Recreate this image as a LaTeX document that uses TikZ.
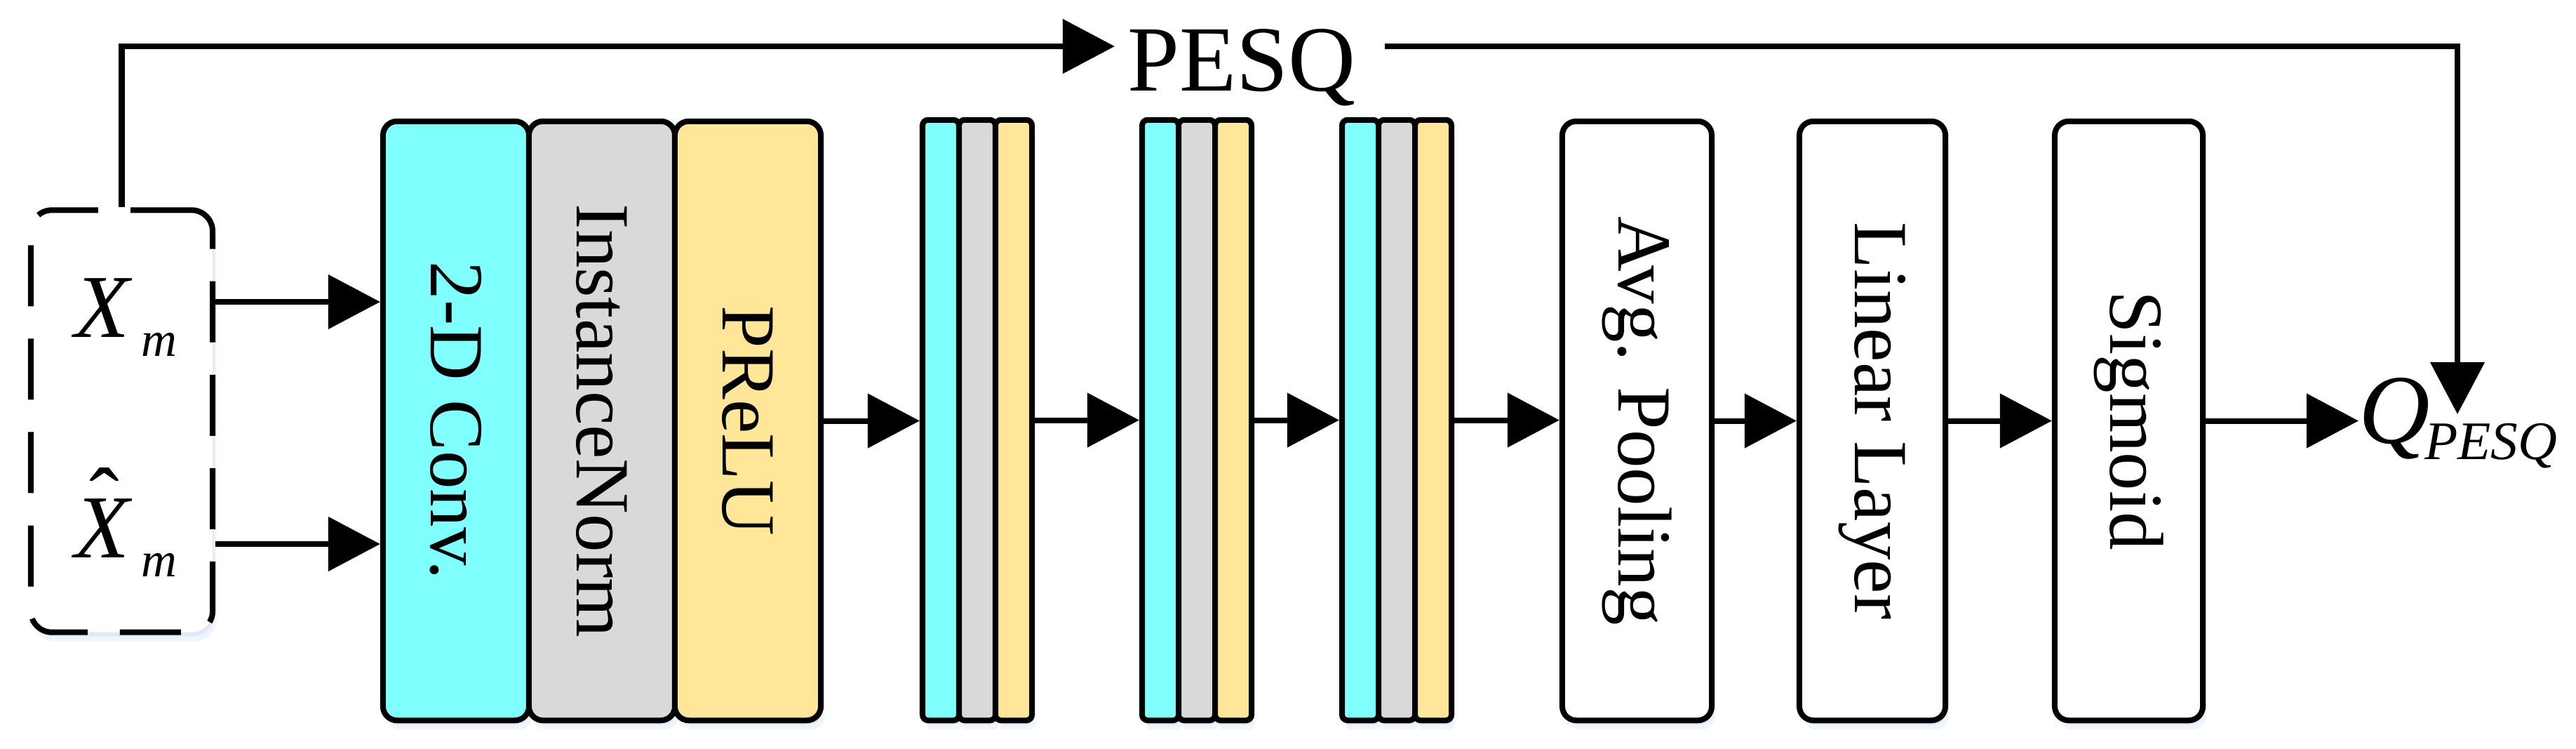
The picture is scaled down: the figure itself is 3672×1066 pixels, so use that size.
\documentclass[tikz,border=0pt]{standalone}
\usepackage{fontspec}
\setmainfont{Liberation Serif}
\usetikzlibrary{arrows.meta,shadows}
\definecolor{cconv}{HTML}{80FFFF}
\definecolor{cnorm}{HTML}{D9D9D9}
\definecolor{cprelu}{HTML}{FFE699}
\definecolor{cshadow}{HTML}{9DBFE8}
\tikzset{
  lw/.style={line width=0.08cm},
  shad/.style={
    drop shadow={shadow xshift=0.05cm, shadow yshift=-0.13cm, fill=cshadow, opacity=0.15},
    drop shadow={shadow xshift=0.02cm, shadow yshift=-0.06cm, fill=cshadow, opacity=0.22}},
  bigbox/.style={draw, lw, rounded corners=0.2cm, minimum width=2.08cm, minimum height=8.53cm,
    inner sep=0, shad, font=\fontsize{31}{31}\selectfont},
  col/.style={draw, lw, rounded corners=0.08cm, minimum width=0.52cm, minimum height=8.55cm,
    inner sep=0, shad},
  arr/.style={lw, -{Triangle[length=0.74cm,width=0.76cm]}},
  lbl/.style={anchor=base west, inner sep=0},
}
\begin{document}
\begin{tikzpicture}[x=0.01cm, y=-0.01cm]
\useasboundingbox (0,0) rectangle (3672,1066);
\fill[white] (0,0) rectangle (3672,1066);

% input group
\node[draw, lw, dash pattern=on 0.87cm off 0.46cm, rounded corners=0.3cm,
  minimum width=2.59cm, minimum height=6.01cm, fill=white, shad] (inbox) at (173.5,600) {};
\node[lbl, font=\fontsize{36.4}{36.4}\selectfont\itshape] (xm) at (106,480)
  {X\kern0.17cm\raisebox{-7.7pt}{\fontsize{20}{20}\selectfont m}};
\node[lbl, font=\fontsize{36.4}{36.4}\selectfont\itshape] (xh) at (106,794)
  {\setbox0\hbox{X}\rlap{\hbox to \wd0{\hss\kern0.06cm\raisebox{0.3em}{\upshape ˆ}\hss}}X\kern0.17cm\raisebox{-7.7pt}{\fontsize{20}{20}\selectfont m}};

% first block
\node[bigbox, fill=cconv]  (conv)  at (650,599.5)  {\rotatebox{-90}{2-D Conv.}};
\node[bigbox, fill=cnorm]  (norm)  at (858,599.5)  {\rotatebox{-90}{InstanceNorm}};
\node[bigbox, fill=cprelu] (prelu) at (1066,599.5) {\rotatebox{-90}{PReLU}};

% small blocks
\node[col, fill=cconv]  (b1a) at (1341,598.5) {};
\node[col, fill=cnorm]  (b1b) at (1393,598.5) {};
\node[col, fill=cprelu] (b1c) at (1445,598.5) {};
\node[col, fill=cconv]  (b2a) at (1654,598.5) {};
\node[col, fill=cnorm]  (b2b) at (1706,598.5) {};
\node[col, fill=cprelu] (b2c) at (1758,598.5) {};
\node[col, fill=cconv]  (b3a) at (1939,598.5) {};
\node[col, fill=cnorm]  (b3b) at (1991,598.5) {};
\node[col, fill=cprelu] (b3c) at (2043,598.5) {};

% head
\node[bigbox, fill=white, minimum width=2.13cm] (avg) at (2333.5,599.5) {\rotatebox{-90}{Avg. Pooling}};
\node[bigbox, fill=white] (lin) at (2669,599.5) {\rotatebox{-90}{Linear Layer}};
\node[bigbox, fill=white, minimum width=2.11cm] (sig) at (3034.5,599.5) {\rotatebox{-90}{Sigmoid}};

% output and PESQ labels
\node[lbl, font=\fontsize{40}{40}\selectfont\itshape] (q) at (3362,631)
  {Q\kern-0.08cm\raisebox{-6.8pt}{\fontsize{22}{22}\selectfont PESQ}};
\node[lbl, font=\fontsize{37.8}{37.8}\selectfont] (pesq) at (1607,129) {PESQ};

\coordinate (r1) at (0,430);
\coordinate (r2) at (0,775);
\coordinate (topy) at (0,66);
\coordinate (qtip) at (3503,590);

% connectors
\draw[arr] (inbox.east |- r1) -- (conv.west |- r1);
\draw[arr] (inbox.east |- r2) -- (conv.west |- r2);
\draw[arr] (inbox.north) |- ([xshift=-0.18cm]pesq.west |- topy);
\draw[arr] ([xshift=0.4cm]pesq.east |- topy) -| (qtip);
\draw[arr] (prelu.east) -- (prelu.east -| b1a.west);
\draw[arr] (b1c.east) -- (b1c.east -| b2a.west);
\draw[arr] (b2c.east) -- (b2c.east -| b3a.west);
\draw[arr] (b3c.east) -- (b3c.east -| avg.west);
\draw[arr] (avg.east) -- (lin.west);
\draw[arr] (lin.east) -- (sig.west);
\draw[arr] (sig.east) -- (sig.east -| q.west);
\end{tikzpicture}
\end{document}
